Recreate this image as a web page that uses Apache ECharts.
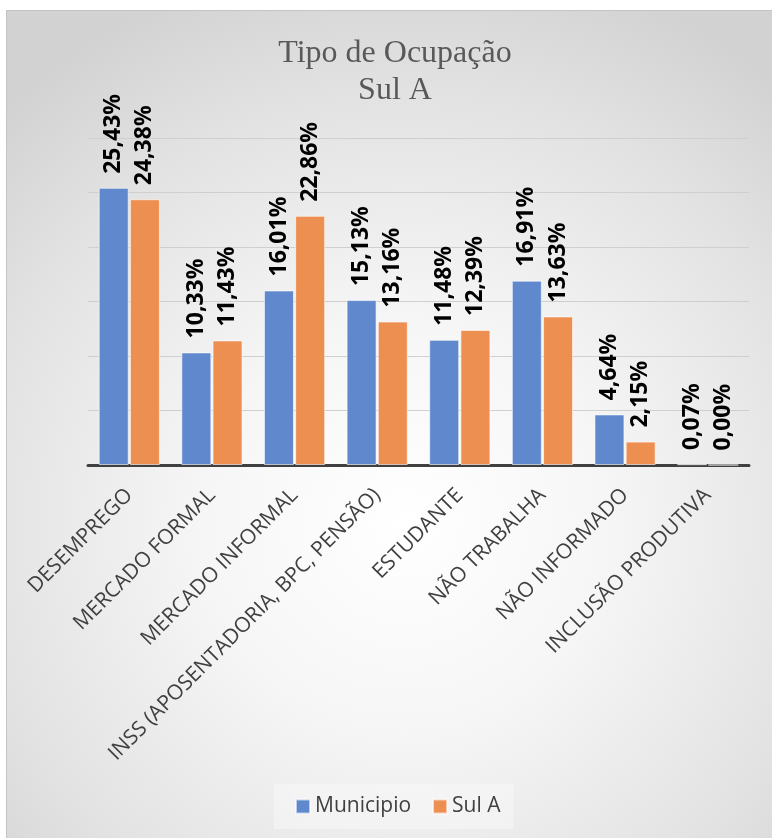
<!DOCTYPE html>
<html>
<head>
<meta charset="utf-8">
<script src="https://cdn.jsdelivr.net/npm/echarts@6/dist/echarts.min.js"></script>
<style>
html,body{margin:0;padding:0;background:#fff;width:772px;height:838px;overflow:hidden;}
#bg{position:absolute;left:6px;top:10px;width:766px;height:828px;box-sizing:border-box;border:1px solid #c4c4c4;border-right:none;border-bottom:none;
background:radial-gradient(ellipse 75% 70% at 52% 62%, #ffffff 0%, #f6f6f6 35%, #e2e2e2 75%, #d2d2d2 100%);}
#chart{position:absolute;left:0;top:0;width:772px;height:838px;}
</style>
</head>
<body>
<div id="bg"></div>
<div id="chart"></div>
<script>
const categories = ['DESEMPREGO','MERCADO FORMAL','MERCADO INFORMAL','INSS (APOSENTADORIA, BPC, PENSÃO)','ESTUDANTE','NÃO TRABALHA','NÃO INFORMADO','INCLUSÃO PRODUTIVA'];
const municipio = [25.43, 10.33, 16.01, 15.13, 11.48, 16.91, 4.64, 0.07];
const sulA = [24.38, 11.43, 22.86, 13.16, 12.39, 13.63, 2.15, 0.00];
const seriesNames = ['Municipio', 'Sul A'];
const titleText = 'Tipo de Ocupação\nSul A';

const chart = echarts.init(document.getElementById('chart'), null, {renderer:'canvas'});
const labelCfg = {
  show: true, position: 'top', rotate: 90, align: 'left', verticalAlign: 'middle', distance: 14,
  fontFamily: 'Open Sans', fontWeight: 'bold', fontSize: 23, color: '#000',
  formatter: p => p.value.toFixed(2).replace('.', ',') + '%'
};
chart.setOption({
  backgroundColor: 'transparent',
  animation: false,
  title: {
    text: titleText, left: 390, top: 30, textAlign: 'center',
    textStyle: {fontFamily: 'Liberation Serif', fontSize: 32, fontWeight: 'normal', color: '#595959', lineHeight: 37}
  },
  legend: {
    data: seriesNames, left: 274, top: 784, icon: 'rect', itemWidth: 14, itemHeight: 14, itemGap: 21,
    padding: [12, 13, 12, 21], backgroundColor: 'rgba(248,248,248,0.55)',
    textStyle: {fontFamily: 'Open Sans', fontSize: 21, color: '#404040'}
  },
  grid: {left: 88, right: 23, top: 138, bottom: 373, containLabel: false},
  xAxis: {
    type: 'category', data: categories,
    axisLine: {lineStyle: {color: '#404040', width: 3}},
    axisTick: {show: false},
    axisLabel: {rotate: 45, interval: 0, margin: 27, fontFamily: 'Open Sans', fontSize: 21, color: '#404040'}
  },
  yAxis: {
    type: 'value', min: 0, max: 30, interval: 5,
    axisLabel: {show: false}, axisLine: {show: false}, axisTick: {show: false},
    splitLine: {lineStyle: {color: '#cfcfcf', width: 1}}
  },
  series: [
    {name: seriesNames[0], type: 'bar', data: municipio, barWidth: 30, barGap: '4%',
     itemStyle: {color: '#5f88cd', borderColor: 'rgba(255,255,255,0.6)', borderWidth: 1}, label: labelCfg},
    {name: seriesNames[1], type: 'bar', data: sulA, barWidth: 30,
     itemStyle: {color: '#ee8f52', borderColor: 'rgba(255,255,255,0.6)', borderWidth: 1}, label: labelCfg}
  ]
});
</script>
</body>
</html>
